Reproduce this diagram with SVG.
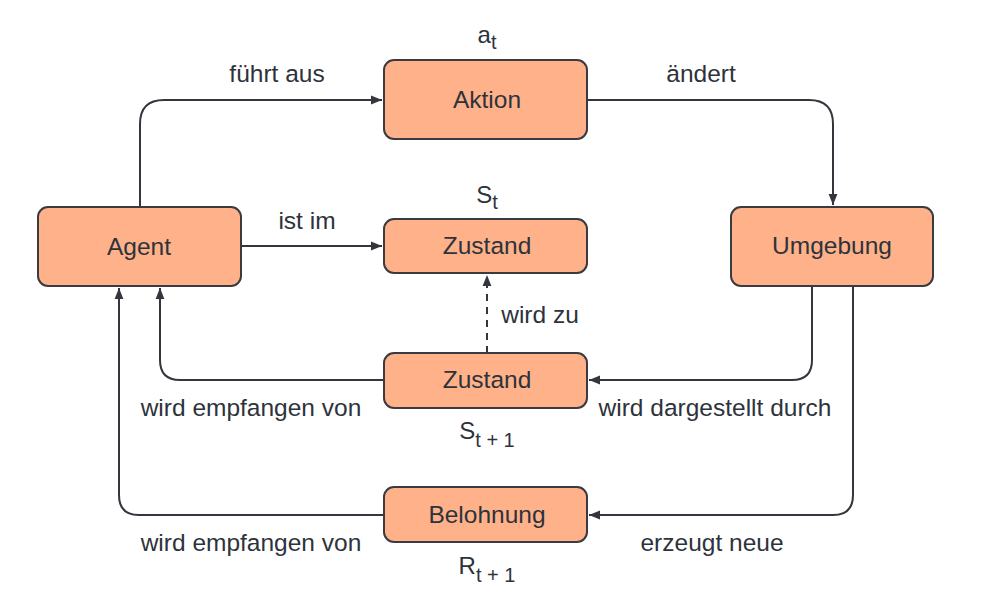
<svg xmlns="http://www.w3.org/2000/svg" width="992" height="602" viewBox="0 0 992 602">
<defs>
<marker id="arr" viewBox="0 0 10 10" refX="10" refY="5" markerWidth="11" markerHeight="11" markerUnits="userSpaceOnUse" orient="auto">
<path d="M0,1 L10,5 L0,9 Z" fill="#33363d"/>
</marker>
<style>
.box{fill:#ffb189;stroke:#3a3b40;stroke-width:2}
.lbl{font-family:"Liberation Sans",Arial,sans-serif;font-size:24.5px;fill:#2e333b;text-anchor:middle}
.sym{font-family:"Liberation Sans",Arial,sans-serif;font-size:24px;fill:#2e333b;text-anchor:middle}
.sub{font-size:20px}
.c{fill:none;stroke:#33363d;stroke-width:2}
</style>
</defs>
<rect width="992" height="602" fill="#ffffff"/>
<g id="connectors">
<path class="c" d="M140,207 V124 Q140,100 164,100 H382" marker-end="url(#arr)"/>
<path class="c" d="M587,100 H809 Q833,100 833,124 V205" marker-end="url(#arr)"/>
<path class="c" d="M241,246 H382" marker-end="url(#arr)"/>
<path class="c" d="M487,353 V275" stroke-dasharray="7,6" marker-end="url(#arr)"/>
<path class="c" d="M812,286 V360 Q812,380 792,380 H589" marker-end="url(#arr)"/>
<path class="c" d="M853,286 V495 Q853,515 833,515 H589" marker-end="url(#arr)"/>
<path class="c" d="M384,380 H180 Q160,380 160,360 V288" marker-end="url(#arr)"/>
<path class="c" d="M384,515 H139 Q119,515 119,495 V288" marker-end="url(#arr)"/>
<text class="lbl" x="277" y="82">führt aus</text>
<text class="lbl" x="701" y="82">ändert</text>
<text class="lbl" x="307" y="229">ist im</text>
<text class="lbl" x="540" y="323">wird zu</text>
<text class="lbl" x="251" y="416">wird empfangen von</text>
<text class="lbl" x="715" y="416">wird dargestellt durch</text>
<text class="lbl" x="251" y="551">wird empfangen von</text>
<text class="lbl" x="712" y="551">erzeugt neue</text>
</g>
<g id="aktion">
<rect class="box" x="384" y="60" width="203" height="79" rx="10"/>
<text class="lbl" x="487" y="108">Aktion</text>
<text class="sym" x="487" y="43">a<tspan class="sub" dy="6">t</tspan></text>
</g>
<g id="agent">
<rect class="box" x="38" y="207" width="203" height="79" rx="10"/>
<text class="lbl" x="139" y="255">Agent</text>
</g>
<g id="zustand1">
<rect class="box" x="384" y="219" width="203" height="54" rx="10"/>
<text class="lbl" x="487" y="254">Zustand</text>
<text class="sym" x="487" y="203">S<tspan class="sub" dy="6">t</tspan></text>
</g>
<g id="umgebung">
<rect class="box" x="731" y="207" width="202" height="79" rx="10"/>
<text class="lbl" x="832" y="254">Umgebung</text>
</g>
<g id="zustand2">
<rect class="box" x="384" y="353" width="203" height="55" rx="10"/>
<text class="lbl" x="487" y="388">Zustand</text>
<text class="sym" x="487" y="439">S<tspan class="sub" dy="8">t + 1</tspan></text>
</g>
<g id="belohnung">
<rect class="box" x="384" y="487" width="203" height="55" rx="10"/>
<text class="lbl" x="487" y="523">Belohnung</text>
<text class="sym" x="487" y="574">R<tspan class="sub" dy="8">t + 1</tspan></text>
</g>
</svg>
